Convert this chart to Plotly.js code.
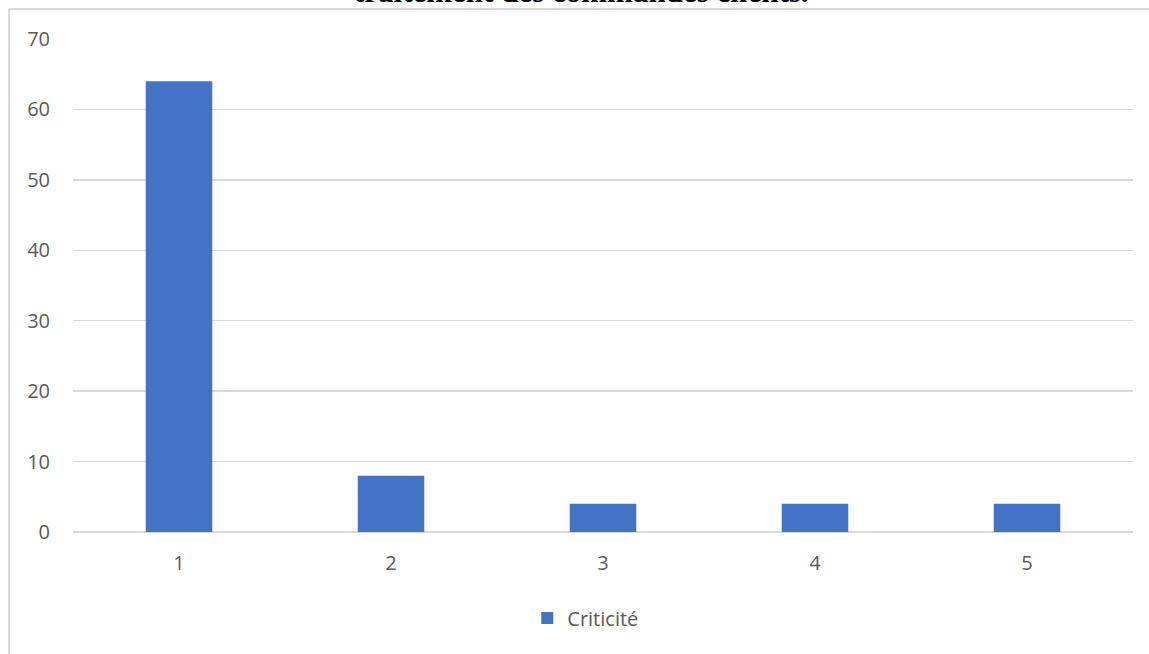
<!DOCTYPE html>
<html>
<head>
<meta charset="utf-8">
<script src="https://cdn.plot.ly/plotly-3.0.1.min.js"></script>
<style>
  html, body { margin: 0; padding: 0; background: #ffffff; }
  #chart { width: 1149px; height: 654px; }
</style>
</head>
<body>
<div id="chart"></div>
<script>
// Criticité par rang
const categories = ['1', '2', '3', '4', '5'];
const criticite = [64, 8, 4, 4, 4];
const seriesName = 'Criticité';
const titleText = 'traitement des commandes clients.';

const textColor = '#595959';
const gridColor = '#D9D9D9';
const barColor = '#4472C4';
const labelFont = { family: 'Open Sans, sans-serif', size: 20, color: textColor };

const trace = {
  type: 'bar',
  x: categories,
  y: criticite,
  name: seriesName,
  marker: { color: barColor },
  hoverinfo: 'x+y'
};

const layout = {
  width: 1149,
  height: 654,
  margin: { l: 73, r: 16, t: 39, b: 122 },
  paper_bgcolor: '#ffffff',
  plot_bgcolor: '#ffffff',
  bargap: 0.686,
  showlegend: true,
  legend: {
    orientation: 'h',
    x: 0.4833, xanchor: 'center',
    y: -0.1744, yanchor: 'middle',
    itemwidth: 30,
    font: labelFont
  },
  xaxis: {
    type: 'category',
    showgrid: false,
    showline: false,
    zeroline: false,
    ticks: 'outside',
    ticklen: 13,
    tickcolor: 'rgba(0,0,0,0)',
    tickfont: labelFont
  },
  yaxis: {
    range: [0, 70],
    dtick: 10,
    showgrid: true,
    gridcolor: gridColor,
    gridwidth: 1.5,
    zeroline: true,
    zerolinecolor: gridColor,
    zerolinewidth: 1.5,
    showline: false,
    ticks: 'outside',
    ticklen: 18,
    tickcolor: 'rgba(0,0,0,0)',
    tickfont: labelFont
  },
  shapes: [
    // chart frame (left and top edges)
    { type: 'line', xref: 'paper', yref: 'paper', x0: -0.0604, x1: -0.0604, y0: 1.0609, y1: -0.3,
      line: { color: gridColor, width: 2 } },
    { type: 'line', xref: 'paper', yref: 'paper', x0: -0.0604, x1: 1.05, y0: 1.0609, y1: 1.0609,
      line: { color: gridColor, width: 2 } }
  ],
  annotations: [
    { text: '<b>' + titleText + '</b>', xref: 'paper', yref: 'paper',
      x: 0.4797, xanchor: 'center', y: 1.0578, yanchor: 'bottom',
      showarrow: false,
      font: { family: 'Liberation Serif, Times New Roman, serif', size: 31, color: '#000000' } }
  ]
};

Plotly.newPlot('chart', [trace], layout, { displayModeBar: false, staticPlot: true });
</script>
</body>
</html>
